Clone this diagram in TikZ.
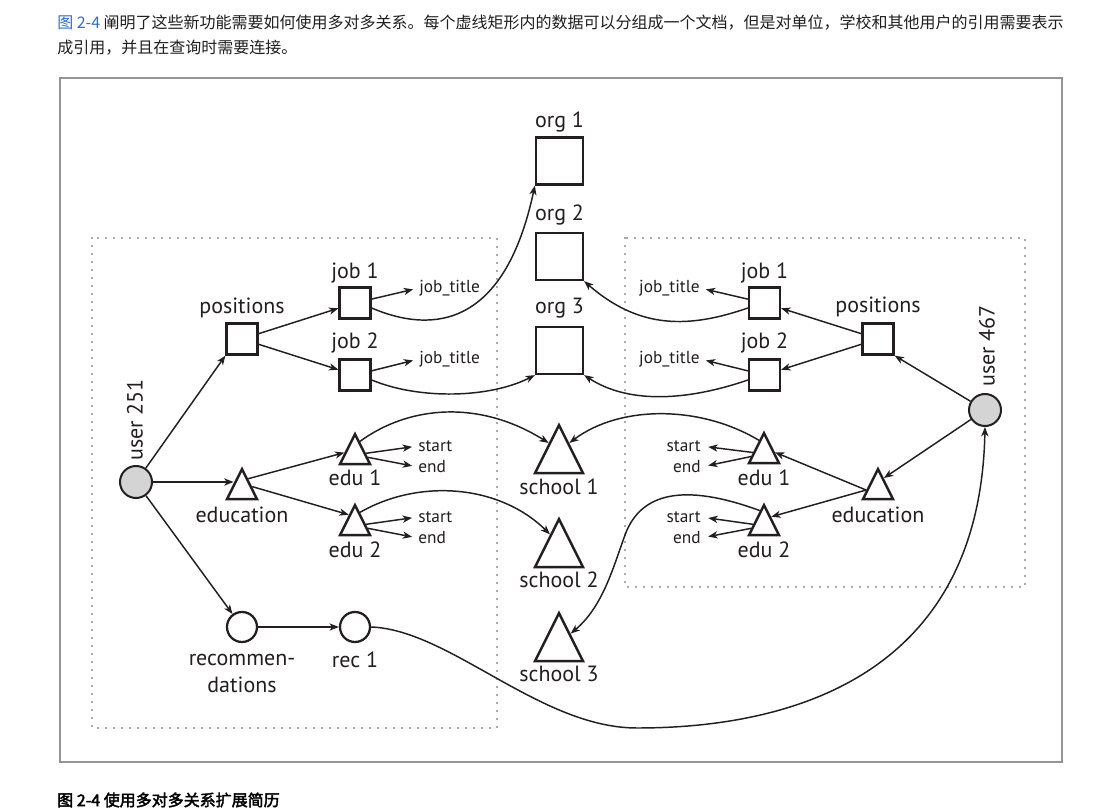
\documentclass[tikz,border=0pt]{standalone}
\usepackage{fontspec}
\setmainfont{PT Sans}
\newfontfamily\cjk{Noto Sans CJK SC}
\newfontfamily\cjkb{Noto Sans CJK SC}[FakeBold=2.5]
\usetikzlibrary{shapes.geometric,arrows.meta,calc}
\definecolor{linkblue}{HTML}{2B6FD6}
\definecolor{framegray}{HTML}{959595}
\definecolor{dotgray}{HTML}{555555}
\definecolor{nodegray}{HTML}{D4D4D4}
\definecolor{ink}{HTML}{231F20}
\definecolor{bodytext}{HTML}{1F1F1F}
\begin{document}
\begin{tikzpicture}[x=0.75pt,y=-0.75pt,
  >={Stealth[length=7pt,width=5.4pt,inset=2pt]},
  conn/.style={draw=ink,line width=1.1pt,->},
  sbox/.style={draw=ink,line width=1.7pt,rectangle,minimum size=23.25pt,inner sep=0pt,fill=white},
  obox/.style={sbox,minimum size=35.25pt},
  ucirc/.style={circle,draw=ink,line width=1.5pt,fill=nodegray,minimum size=24pt,inner sep=0pt},
  rcirc/.style={circle,draw=ink,line width=1.7pt,fill=white,minimum size=22.5pt,inner sep=0pt},
  tri/.style={isosceles triangle,isosceles triangle stretches,shape border rotate=90,draw=ink,line width=1.8pt,fill=white,inner sep=0pt,minimum width=22.5pt,minimum height=22.5pt,anchor=apex},
  bigtri/.style={tri,minimum width=36pt,minimum height=36pt},
  lbl/.style={font=\fontsize{16.5}{20.25}\selectfont,text=ink,inner sep=0pt},
  sml/.style={font=\fontsize{13}{15}\selectfont,text=ink,inner sep=0pt},
  dotbox/.style={draw=dotgray,line width=1.3pt,dash pattern=on 0pt off 6pt,line cap=round},
  txt/.style={anchor=west,inner sep=0pt,text=bodytext,font=\cjk\fontsize{12}{14}\selectfont}
]
\fill[white] (0,0) rectangle (1111,812);
\useasboundingbox (0,0) rectangle (1111,812);

% captions
\node[txt] (intro1) at (57,23) {\textcolor{linkblue}{图 2-4} 阐明了这些新功能需要如何使用多对多关系。每个虚线矩形内的数据可以分组成一个文档，但是对单位，学校和其他用户的引用需要表示};
\node[txt] (intro2) at (57,48) {成引用，并且在查询时需要连接。};
\node[txt,font=\cjkb\fontsize{12}{14}\selectfont,text=black] (cap) at (57,800) {图 2-4 使用多对多关系扩展简历};

% frame and document boxes
\draw[framegray,line width=1.2pt] (60,78) rectangle (1062,762);
\draw[dotbox] (92,238) rectangle (497,728);
\draw[dotbox] (625,238) rectangle (1025,587);

% ---------- left user ----------
\node[ucirc] (u251) at (136,482) {};
\node[lbl,rotate=90] (u251l) at (135,420) {user 251};
\node[sbox] (posL) at (242,339) {};
\node[lbl] (posLl) at (242,308) {positions};
\node[sbox] (job1L) at (355,303) {};
\node[lbl] (job1Ll) at (355,273) {job 1};
\node[sbox] (job2L) at (355,375) {};
\node[lbl] (job2Ll) at (355,343) {job 2};
\node[sml,anchor=west] (jt1L) at (419,288) {job\_title};
\node[sml,anchor=west] (jt2L) at (419,359) {job\_title};
\node[tri] (eduL) at (242,466) {};
\node[lbl] (eduLl) at (242,515) {education};
\node[tri] (edu1L) at (355,431) {};
\node[lbl] (edu1Ll) at (355,478) {edu 1};
\node[tri] (edu2L) at (355,502) {};
\node[lbl] (edu2Ll) at (355,550) {edu 2};
\node[sml,anchor=west] (s1L) at (418,446) {start};
\node[sml,anchor=west] (e1L) at (418,467) {end};
\node[sml,anchor=west] (s2L) at (418,517) {start};
\node[sml,anchor=west] (e2L) at (418,538) {end};
\node[rcirc] (recs) at (242,627) {};
\node[lbl,align=center] (recsl) at (242,673) {recommen-\\dations};
\node[rcirc] (rec1) at (355,627) {};
\node[lbl] (rec1l) at (355,660) {rec 1};

% ---------- middle ----------
\node[obox] (org1) at (559.5,161) {};
\node[lbl] (org1l) at (559.5,122) {org 1};
\node[obox] (org2) at (559.5,256.5) {};
\node[lbl] (org2l) at (559.5,215) {org 2};
\node[obox] (org3) at (559.5,350.5) {};
\node[lbl] (org3l) at (559.5,308) {org 3};
\node[bigtri] (sch1) at (559,422) {};
\node[lbl] (sch1l) at (559,487) {school 1};
\node[bigtri] (sch2) at (559,516) {};
\node[lbl] (sch2l) at (559,580) {school 2};
\node[bigtri] (sch3) at (559,610) {};
\node[lbl] (sch3l) at (559,674) {school 3};

% ---------- right user ----------
\node[ucirc] (u467) at (985,410) {};
\node[lbl,rotate=90] (u467l) at (987,346) {user 467};
\node[sbox] (posR) at (878,339) {};
\node[lbl] (posRl) at (878,307) {positions};
\node[sbox] (job1R) at (764.5,303) {};
\node[lbl] (job1Rl) at (764.5,273) {job 1};
\node[sbox] (job2R) at (764.5,375) {};
\node[lbl] (job2Rl) at (764.5,343) {job 2};
\node[sml,anchor=east] (jt1R) at (700,288) {job\_title};
\node[sml,anchor=east] (jt2R) at (700,359) {job\_title};
\node[tri] (eduR) at (878,466) {};
\node[lbl] (eduRl) at (878,515) {education};
\node[tri] (edu1R) at (764,430) {};
\node[lbl] (edu1Rl) at (764,478) {edu 1};
\node[tri] (edu2R) at (764,502) {};
\node[lbl] (edu2Rl) at (764,550) {edu 2};
\node[sml,anchor=east] (s1R) at (701,446) {start};
\node[sml,anchor=east] (e1R) at (701,467) {end};
\node[sml,anchor=east] (s2R) at (701,517) {start};
\node[sml,anchor=east] (e2R) at (701,538) {end};

% ---------- left connectors ----------
\coordinate (eduLin) at ($(eduL.apex)!0.5!(eduL.left corner)$);
\draw[conn] (u251) -- (posL.south west);
\draw[conn] (u251.east) -- (eduLin |- u251.east);
\draw[conn] (u251) -- (recs);
\draw[conn] (posL) -- (job1L);
\draw[conn] (posL) -- (job2L);
\draw[conn] ($(eduL.apex)!0.37!(eduL.right corner)$) -- ($(edu1L.apex)!0.63!(edu1L.left corner)$);
\draw[conn] ($(eduL.apex)!0.6!(eduL.right corner)$) -- ($(edu2L.apex)!0.37!(edu2L.left corner)$);
\draw[conn] (recs) -- (rec1);
\draw[conn,shorten >=4.5pt] (job1L) -- (jt1L.west);
\draw[conn,shorten >=4.5pt] (job2L) -- (jt2L.west);
\draw[conn,shorten >=4.5pt] (edu1L) -- (s1L.west);
\draw[conn,shorten >=4.5pt] (edu1L) -- (e1L.west);
\draw[conn,shorten >=4.5pt] (edu2L) -- (s2L.west);
\draw[conn,shorten >=4.5pt] (edu2L) -- (e2L.west);

% ---------- right connectors ----------
\draw[conn] (u467) -- (posR.south east);
\draw[conn] (u467) -- ($(eduR.apex)!0.35!(eduR.right corner)$);
\draw[conn] (posR) -- (job1R);
\draw[conn] (posR) -- (job2R);
\draw[conn] ($(eduR.apex)!0.7!(eduR.left corner)$) -- ($(edu1R.apex)!0.65!(edu1R.right corner)$);
\draw[conn] ($(eduR.apex)!0.7!(eduR.left corner)$) -- ($(edu2R.apex)!0.43!(edu2R.right corner)$);
\draw[conn,shorten >=4.5pt] (job1R) -- (jt1R.east);
\draw[conn,shorten >=4.5pt] (job2R) -- (jt2R.east);
\draw[conn,shorten >=5.5pt] (edu1R) -- (s1R.east);
\draw[conn,shorten >=5.5pt] (edu1R) -- (e1R.east);
\draw[conn,shorten >=5.5pt] (edu2R) -- (s2R.east);
\draw[conn,shorten >=5.5pt] (edu2R) -- (e2R.east);

% ---------- references ----------
\draw[conn] ($(job1L.east)+(0,5)$) .. controls (435,335) and (505,325) .. (org1.south west);
\draw[conn] ($(job2L.east)+(0,5)$) .. controls (420,400) and (490,398) .. (org3.south west);
\draw[conn] ($(job1R.west)+(0,5)$) .. controls (690,328) and (640,330) .. (org2.south east);
\draw[conn] ($(job2R.west)+(0,5)$) .. controls (690,400) and (630,405) .. (org3.south east);
\draw[conn] ($(edu1L.apex)!0.3!(edu1L.right corner)$) .. controls (410,405) and (480,400) .. ($(sch1.apex)!0.4!(sch1.left corner)$);
\draw[conn] ($(edu2L.apex)!0.3!(edu2L.right corner)$) .. controls (420,478) and (500,485) .. ($(sch2.apex)!0.35!(sch2.left corner)$);
\draw[conn] ($(edu1R.apex)!0.3!(edu1R.left corner)$) .. controls (700,405) and (620,405) .. ($(sch1.apex)!0.4!(sch1.right corner)$);
\draw[conn] ($(edu2R.apex)!0.25!(edu2R.left corner)$) .. controls (690,485) and (645,490) .. (627,530) .. controls (615,560) and (605,605) .. ($(sch3.apex)!0.45!(sch3.right corner)$);
\draw[conn] (rec1.east) .. controls (450,630) and (540,728) .. (637,728) .. controls (800,728) and (980,670) .. (u467.south);
\end{tikzpicture}
\end{document}
